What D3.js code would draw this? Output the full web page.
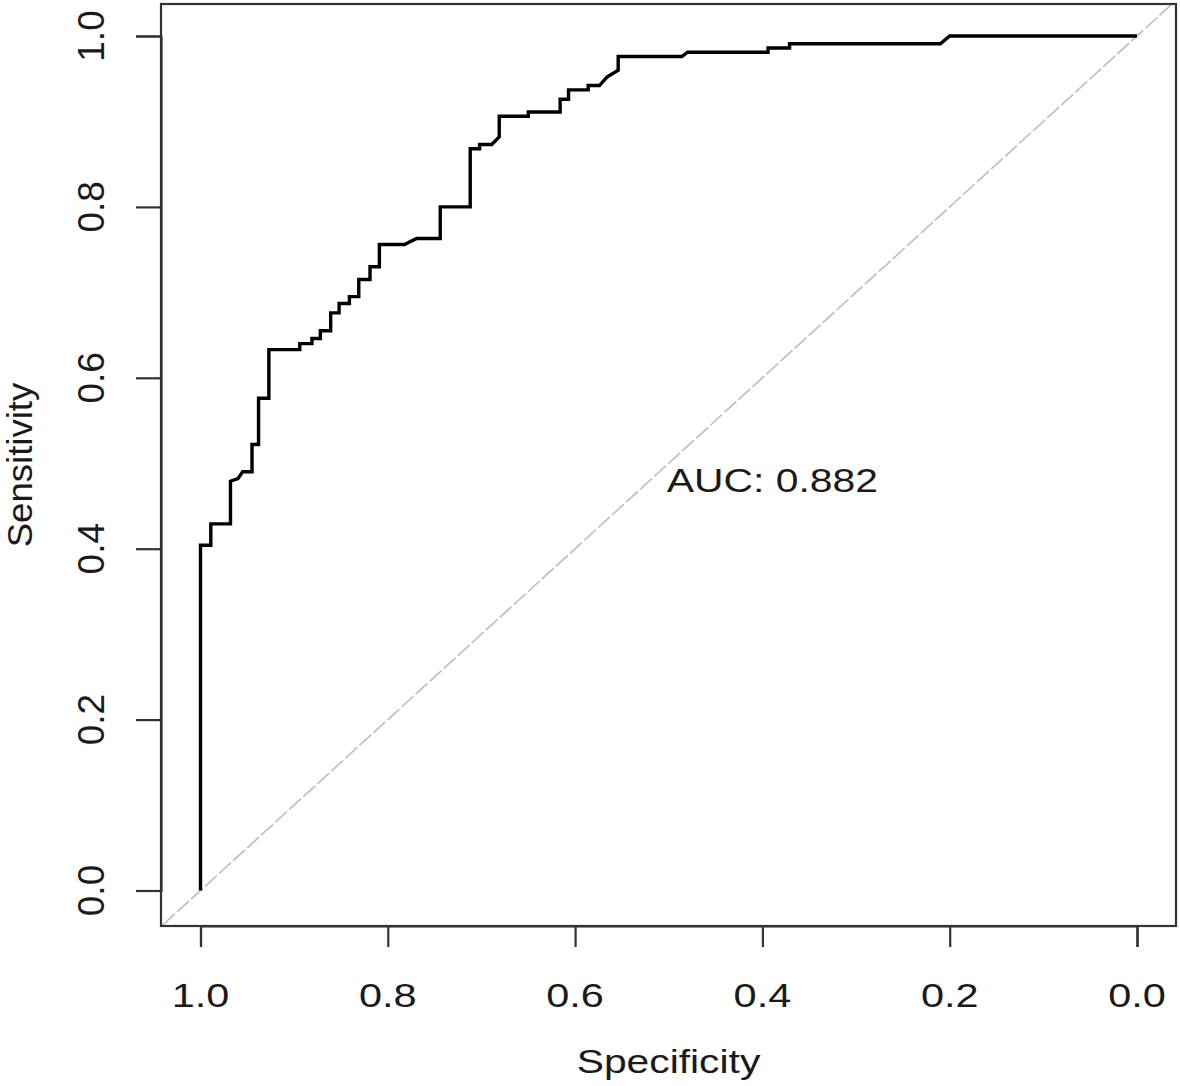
<!DOCTYPE html>
<html>
<head>
<meta charset="utf-8">
<script src="https://cdn.jsdelivr.net/npm/d3@7"></script>
<style>
  html, body { margin: 0; padding: 0; background: #fff; }
  svg { display: block; }
  text { font-family: "Liberation Sans", Arial, sans-serif; fill: #1a1a1a; }
</style>
</head>
<body>
<script>
// ROC curve vertices (specificity, sensitivity)
const specificity = [1.000, 1.000, 0.989, 0.989, 0.968, 0.968, 0.960, 0.955, 0.945, 0.945,
  0.938, 0.938, 0.927, 0.927, 0.894, 0.894, 0.881, 0.881, 0.872, 0.872,
  0.861, 0.861, 0.852, 0.852, 0.841, 0.841, 0.831, 0.831, 0.819, 0.819,
  0.809, 0.809, 0.782, 0.775, 0.769, 0.744, 0.744, 0.712, 0.712, 0.702,
  0.702, 0.689, 0.681, 0.681, 0.650, 0.650, 0.616, 0.616, 0.607, 0.607,
  0.586, 0.586, 0.574, 0.566, 0.554, 0.554, 0.486, 0.480, 0.394, 0.394,
  0.371, 0.371, 0.210, 0.200, 0.000];
const sensitivity = [0.000, 0.404, 0.404, 0.429, 0.429, 0.479, 0.482, 0.490, 0.490, 0.522,
  0.522, 0.576, 0.576, 0.633, 0.633, 0.640, 0.640, 0.646, 0.646, 0.655,
  0.655, 0.676, 0.676, 0.687, 0.687, 0.695, 0.695, 0.715, 0.715, 0.730,
  0.730, 0.756, 0.756, 0.760, 0.763, 0.763, 0.800, 0.800, 0.868, 0.868,
  0.873, 0.873, 0.882, 0.906, 0.906, 0.911, 0.911, 0.926, 0.926, 0.937,
  0.937, 0.942, 0.942, 0.952, 0.960, 0.976, 0.976, 0.981, 0.981, 0.986,
  0.986, 0.991, 0.991, 1.000, 1.000];
const xTicks = [1.0, 0.8, 0.6, 0.4, 0.2, 0.0];
const yTicks = [0.0, 0.2, 0.4, 0.6, 0.8, 1.0];
const xTickLabels = ["1.0", "0.8", "0.6", "0.4", "0.2", "0.0"];
const yTickLabels = ["0.0", "0.2", "0.4", "0.6", "0.8", "1.0"];
const aucValue = 0.882;
const xTitle = "Specificity";
const yTitle = "Sensitivity";

const W = 1180, H = 1086;
const box = { left: 161, right: 1176, top: 4, bottom: 926 };

const svg = d3.select("body").append("svg").attr("width", W).attr("height", H);

const x = d3.scaleLinear().domain([1, 0]).range([200.5, 1137]);
const y = d3.scaleLinear().domain([0, 1]).range([890.5, 36]);

svg.append("defs").append("clipPath").attr("id", "plotclip")
  .append("rect")
  .attr("x", box.left).attr("y", box.top)
  .attr("width", box.right - box.left).attr("height", box.bottom - box.top);

// diagonal reference line
svg.append("line")
  .attr("clip-path", "url(#plotclip)")
  .attr("x1", x(1.1)).attr("y1", y(-0.1))
  .attr("x2", x(-0.1)).attr("y2", y(1.1))
  .attr("stroke", "#bdbdbd").attr("stroke-width", 1.6)
  .attr("stroke-dasharray", "16,3");

// ROC curve
const pts = specificity.map((s, i) => [s, sensitivity[i]]);
svg.append("path")
  .datum(pts)
  .attr("d", d3.line().x(d => x(d[0])).y(d => y(d[1])))
  .attr("fill", "none").attr("stroke", "#000").attr("stroke-width", 3.4)
  .attr("stroke-linejoin", "miter");

// box
svg.append("rect")
  .attr("x", box.left).attr("y", box.top)
  .attr("width", box.right - box.left).attr("height", box.bottom - box.top)
  .attr("fill", "none").attr("stroke", "#333").attr("stroke-width", 2.2);

// x axis
const xAxis = svg.append("g").attr("transform", `translate(0,${box.bottom})`)
  .call(d3.axisBottom(x).tickValues(xTicks).tickSize(21).tickFormat(""));
xAxis.select(".domain").attr("stroke", "#333").attr("stroke-width", 2.2);
xAxis.selectAll(".tick line").attr("stroke", "#333").attr("stroke-width", 2.2);
xTicks.forEach((t, i) => {
  svg.append("text")
    .attr("transform", `translate(${x(t)},1007) scale(1.22,1)`)
    .attr("text-anchor", "middle").attr("font-size", 34)
    .text(xTickLabels[i]);
});

// y axis
const yAxis = svg.append("g").attr("transform", `translate(${box.left},0)`)
  .call(d3.axisLeft(y).tickValues(yTicks).tickSize(25).tickFormat(""));
yAxis.select(".domain").attr("stroke", "#333").attr("stroke-width", 2.2);
yAxis.selectAll(".tick line").attr("stroke", "#333").attr("stroke-width", 2.2);
yTicks.forEach((t, i) => {
  svg.append("text")
    .attr("transform", `translate(104,${y(t)}) rotate(-90)`)
    .attr("text-anchor", "middle").attr("font-size", 37)
    .text(yTickLabels[i]);
});

// titles
svg.append("text")
  .attr("transform", `translate(${(box.left + box.right) / 2},1073) scale(1.2,1)`)
  .attr("text-anchor", "middle").attr("font-size", 34)
  .text(xTitle);
svg.append("text")
  .attr("transform", `translate(32,${(box.top + box.bottom) / 2}) rotate(-90) scale(1.06,1)`)
  .attr("text-anchor", "middle").attr("font-size", 34.5)
  .text(yTitle);

// AUC label
svg.append("text")
  .attr("transform", `translate(${x(0.5) - 2},${y(0.5) + 29}) scale(1.22,1)`)
  .attr("text-anchor", "start").attr("font-size", 33.5)
  .text("AUC: " + aucValue.toFixed(3));
</script>
</body>
</html>
